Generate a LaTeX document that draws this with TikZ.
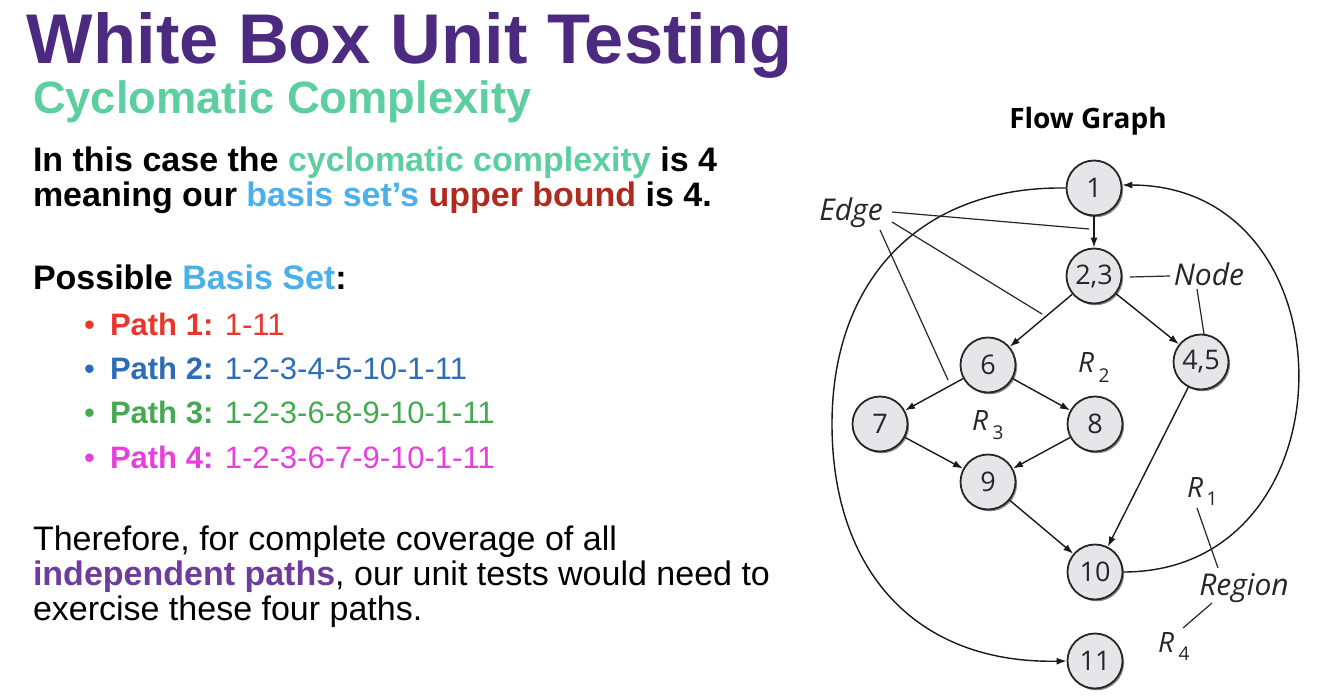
\documentclass[tikz,border=0pt]{standalone}
\usepackage{fontspec}
\setmainfont{Liberation Sans}
\newfontfamily\graphfont{Open Sans}
\newfontfamily\headfont{Open Sans}
\usetikzlibrary{arrows.meta,shadows}
\definecolor{titlepurple}{HTML}{4B2A80}
\definecolor{mint}{HTML}{5DCEA0}
\definecolor{skyblue}{HTML}{4AB0EA}
\definecolor{darkred}{HTML}{B02A20}
\definecolor{pathred}{HTML}{E8362A}
\definecolor{pathblue}{HTML}{2C6DB8}
\definecolor{pathgreen}{HTML}{45A94F}
\definecolor{pathpink}{HTML}{E63FDE}
\definecolor{indpurple}{HTML}{6E3C9C}
\definecolor{nodegray}{HTML}{E6E6E8}
\begin{document}
\begin{tikzpicture}[x=1pt,y=-1pt,
  txt/.style={anchor=base west,inner sep=0pt,outer sep=0pt},
  body/.style={txt,font=\fontsize{34}{40}\selectfont},
  pathline/.style={txt,font=\fontsize{31}{36}\selectfont},
  gnode/.style={circle,draw=black!85,line width=1.8pt,fill=nodegray,minimum size=55pt,inner sep=0pt,
    font=\graphfont\fontsize{27}{28}\selectfont,text=black!85,
    drop shadow={shadow xshift=1.6pt,shadow yshift=-1.8pt,fill=black!55,opacity=0.85}},
  edge/.style={draw=black!90,line width=1.4pt,-{Latex[length=10pt,width=7pt]}},
  lead/.style={draw=black!85,line width=1.2pt},
  lab/.style={inner sep=0pt,font=\graphfont\itshape\fontsize{30}{32}\selectfont,text=black!85},
  rlab/.style={inner sep=0pt,font=\graphfont\itshape\fontsize{28}{30}\selectfont,text=black!85},
  rsub/.style={inner sep=0pt,font=\graphfont\fontsize{19}{20}\selectfont,text=black!85}
]
\useasboundingbox (0,0) rectangle (1334,700);

% ---------- left text ----------
\node[txt,text=titlepurple,font=\fontsize{70.4}{80}\selectfont\bfseries] (title) at (27,64) {White Box Unit Testing};
\node[txt,text=mint,font=\fontsize{45.3}{52}\selectfont\bfseries] (subtitle) at (33,114) {Cyclomatic Complexity};
\node[body,font=\fontsize{34}{40}\selectfont\bfseries] (l1) at (33,172) {In this case the \textcolor{mint}{cyclomatic complexity} is 4};
\node[body,font=\fontsize{34}{40}\selectfont\bfseries] (l2) at (33,207) {meaning our \textcolor{skyblue}{basis set’s} \textcolor{darkred}{upper bound} is 4.};
\node[body,font=\fontsize{34}{40}\selectfont\bfseries] (l3) at (33,290) {Possible \textcolor{skyblue}{Basis Set}:};

\node[pathline,text=pathred] (b1) at (84,336) {•};
\node[pathline,text=pathred] (p1) at (110,336) {\textbf{Path 1:} 1-11};
\node[pathline,text=pathblue] (b2) at (84,380) {•};
\node[pathline,text=pathblue] (p2) at (110,380) {\textbf{Path 2:} 1-2-3-4-5-10-1-11};
\node[pathline,text=pathgreen] (b3) at (84,424) {•};
\node[pathline,text=pathgreen] (p3) at (110,424) {\textbf{Path 3:} 1-2-3-6-8-9-10-1-11};
\node[pathline,text=pathpink] (b4) at (84,468) {•};
\node[pathline,text=pathpink] (p4) at (110,468) {\textbf{Path 4:} 1-2-3-6-7-9-10-1-11};

\node[body] (t1) at (33,550) {Therefore, for complete coverage of all};
\node[body] (t2) at (33,585) {\textcolor{indpurple}{\textbf{independent paths}}, our unit tests would need to};
\node[body] (t3) at (33,620) {exercise these four paths.};

% ---------- flow graph ----------
\node[inner sep=0pt,anchor=base,font=\headfont\bfseries\fontsize{28}{32}\selectfont] (fg) at (1088,129) {Flow Graph};

\node[gnode] (n1)  at (1094,188) {1};
\node[gnode] (n23) at (1094,276) {2,3};
\node[gnode] (n6)  at (988,365) {6};
\node[gnode] (n45) at (1201,362) {4,5};
\node[gnode] (n7)  at (880,424) {7};
\node[gnode] (n8)  at (1095,424) {8};
\node[gnode] (n9)  at (988,482) {9};
\node[gnode] (n10) at (1095,572) {10};
\node[gnode] (n11) at (1095,661) {11};

\draw[edge] (n1) -- (n23);
\draw[edge] (n23) -- (n6);
\draw[edge] (n23) -- (n45);
\draw[edge] (n6) -- (n7);
\draw[edge] (n6) -- (n8);
\draw[edge] (n7) -- (n9);
\draw[edge] (n8) -- (n9);
\draw[edge] (n9) -- (n10);
\draw[edge] (n45) -- (n10);
\draw[edge] (n10.east) .. controls (1356,572) and (1356,185) .. (n1.6);
\coordinate (leftmost) at (832,424);
\draw[edge] (n1.west) .. controls (920,186) and (832,280) .. (leftmost)
                      .. controls (832,570) and (915,664) .. (n11.west);

% labels
\node[lab] (edgelbl) at (851,213) {Edge};
\node[lab] (nodelbl) at (1209,274) {Node};
\node[lab] (reglbl) at (1244,588) {Region};

\node[rlab] (r1) at (1195,488) {R};
\node[rsub] (r1s) at (1212,499) {1};
\node[rlab] (r2) at (1086,363) {R};
\node[rsub] (r2s) at (1104,376) {2};
\node[rlab] (r3) at (980,421) {R};
\node[rsub] (r3s) at (998,433) {3};
\node[rlab] (r4) at (1166,643) {R};
\node[rsub] (r4s) at (1184,654) {4};

% leader lines
\coordinate (ea) at (892,212); \coordinate (eb) at (1089,229);
\coordinate (ec) at (892,222); \coordinate (ed) at (1042,314);
\coordinate (ee) at (880,230); \coordinate (ef) at (948,380);
\draw[lead] (ea) -- (eb);
\draw[lead] (ec) -- (ed);
\draw[lead] (ee) -- (ef);
\coordinate (na) at (1130,277); \coordinate (nb) at (1170,276);
\coordinate (nc) at (1197,289); \coordinate (nd) at (1204,334);
\draw[lead] (na) -- (nb);
\draw[lead] (nc) -- (nd);
\coordinate (ra) at (1197,508); \coordinate (rb) at (1218,568);
\coordinate (rc) at (1212,603); \coordinate (rd) at (1183,628);
\draw[lead] (ra) -- (rb);
\draw[lead] (rc) -- (rd);
\end{tikzpicture}
\end{document}
